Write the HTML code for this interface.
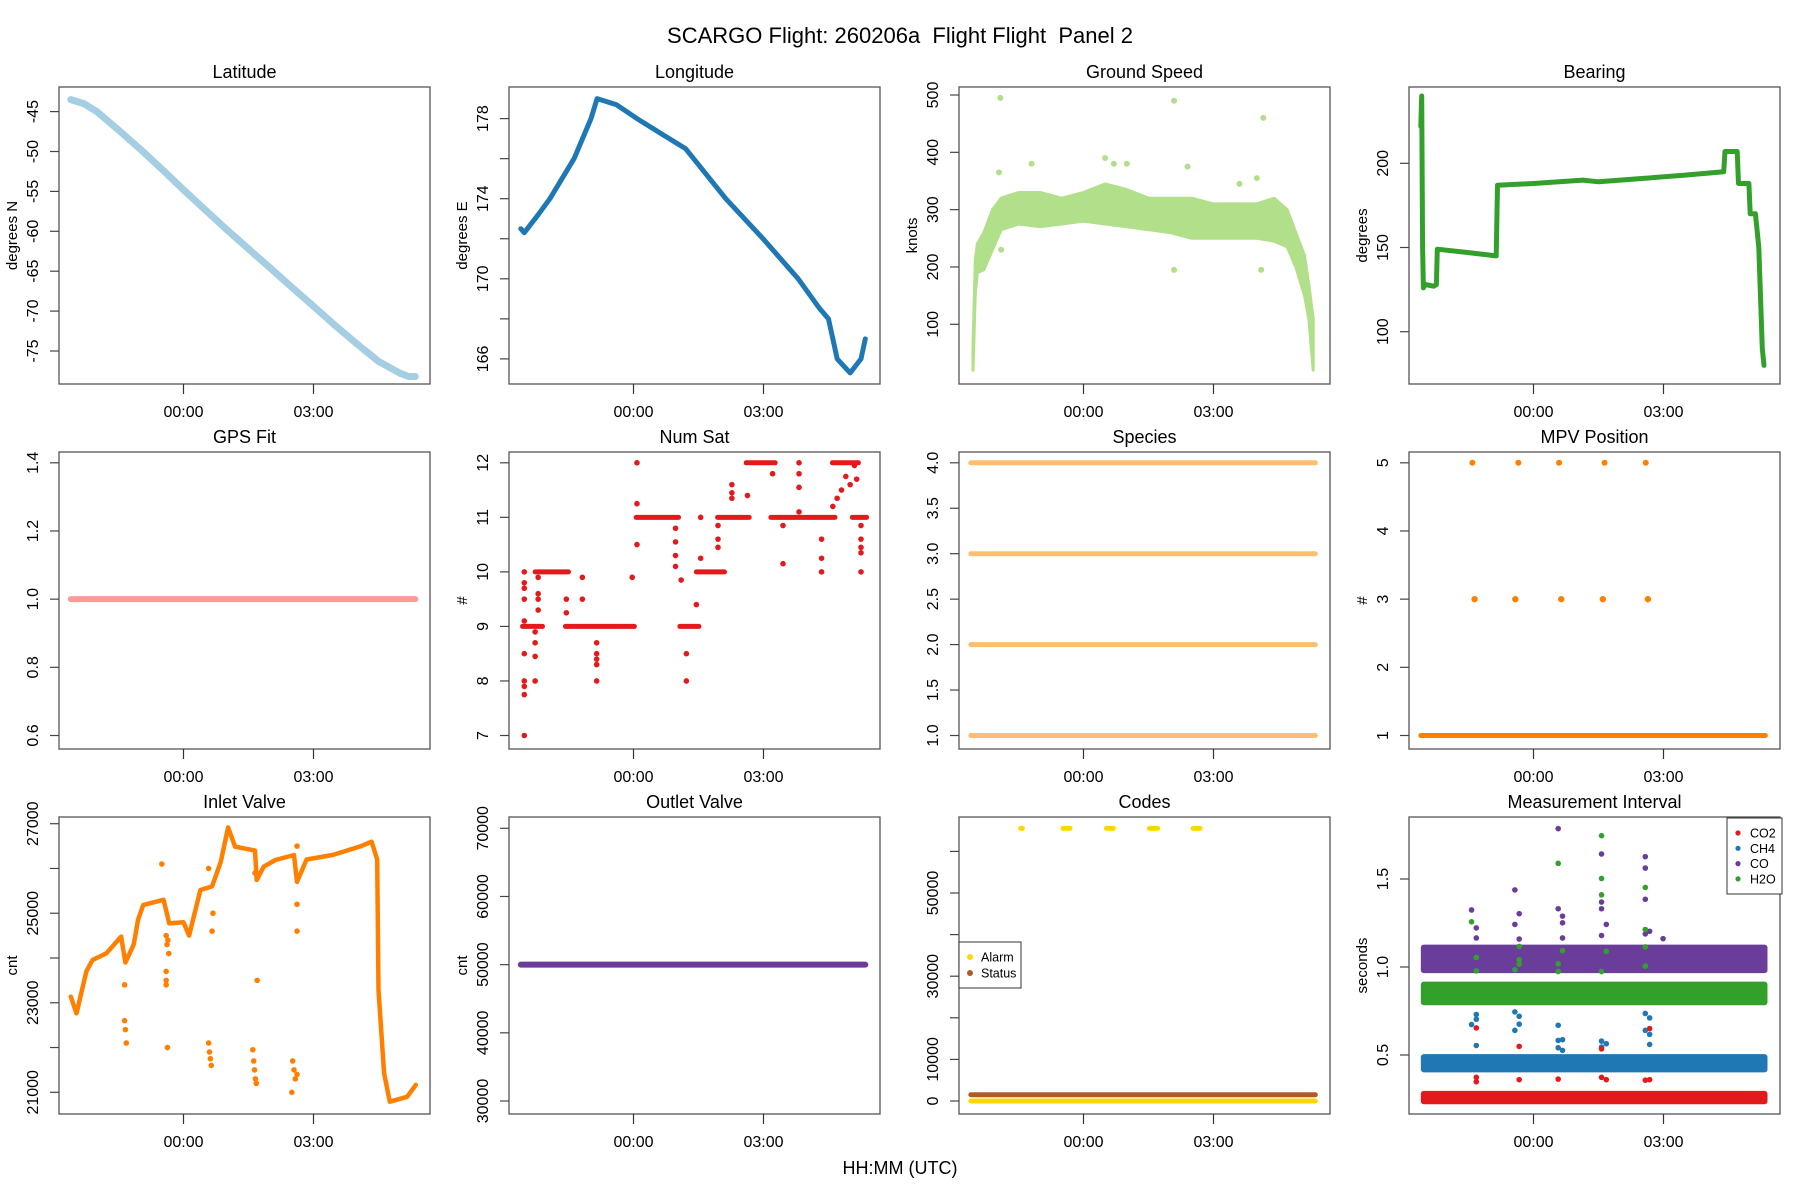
<!DOCTYPE html>
<html><head><meta charset="utf-8"><style>
html,body{margin:0;padding:0;background:#fff}
svg{display:block;font-family:"Liberation Sans",sans-serif}
</style></head><body>
<svg id="chart" width="1800" height="1200" viewBox="0 0 1800 1200" xmlns="http://www.w3.org/2000/svg">
<rect x="0" y="0" width="1800" height="1200" fill="#fff"/>
<text x="900" y="43" font-size="22" text-anchor="middle" style="white-space:pre" xml:space="preserve">SCARGO Flight: 260206a  Flight Flight  Panel 2</text>
<text x="900" y="1174" font-size="18" text-anchor="middle">HH:MM (UTC)</text>
</svg>
<script>
// ---- data ----
const xTickValues=[0,3];
const xTickLabels=["00:00","03:00"];
const latT=[-2.6,-2.3,-2.0,-1.5,-1,-0.5,0,0.5,1,1.5,2,2.5,3,3.5,4,4.5,5,5.2,5.35];
const latV=[-43.5,-44,-45,-47.3,-49.7,-52.2,-54.8,-57.3,-59.8,-62.2,-64.6,-67,-69.4,-71.8,-74.1,-76.3,-77.8,-78.2,-78.2];
const lonT=[-2.6,-2.52,-2.2,-1.93,-1.37,-0.98,-0.84,-0.4,0.08,0.6,1.2,2.13,2.99,3.8,4.3,4.5,4.7,5.0,5.25,5.35];
const lonV=[172.5,172.3,173.2,174,176,178,179,178.7,178,177.3,176.5,174,172,170,168.5,168,166,165.3,166,167];
const gsT=[-2.55,-2.5,-2.45,-2.3,-2.1,-1.9,-1.5,-1,-0.5,0,0.5,1,1.5,2,2.5,3,3.5,4,4.4,4.7,4.9,5.1,5.2,5.3];
const gsLo=[20,150,190,195,230,265,275,270,275,280,275,270,265,260,250,250,250,250,245,235,200,150,110,20];
const gsHi=[60,210,240,260,300,320,330,330,320,330,345,335,320,320,320,310,310,310,320,300,260,220,170,110];
const gsOutT=[-1.92,2.09,4.15,-1.9,2.09,4.1,-1.2,0.5,2.4,4.0,0.7,-1.95,1.0,3.6];
const gsOutV=[495,490,460,230,195,195,380,390,375,355,380,365,380,345];
const brT=[-2.6,-2.58,-2.56,-2.54,-2.5,-2.3,-2.24,-2.22,-1.5,-0.86,-0.83,0,1.14,1.5,2.5,3.5,4.39,4.42,4.7,4.73,4.97,5.0,5.12,5.18,5.2,5.28,5.32];
const brV=[222,240,150,126,128,127,128,149,147,145,187,188,190,189,191,193,195,207,207,188,188,170,170,155,150,90,80];
const gpsT=[-2.6,5.35];
const gpsV=[1.0,1.0];
const nsRunStart=[-2.56,-2.27,-1.57,0.06,1.07,1.45,1.94,2.6,3.17,4.59,5.05];
const nsRunEnd=[-2.10,-1.50,0.02,1.04,1.51,2.10,2.67,3.27,4.65,5.19,5.38];
const nsRunV=[9,10,9,11,9,10,11,12,11,12,11];
const nsPtT=[-2.52,-2.52,-2.52,-2.52,-2.52,-2.52,-2.52,-2.52,-2.52,-2.52,-2.27,-2.27,-2.27,-2.27,-2.2,-2.2,-2.2,-2.2,-1.55,-1.55,-1.18,-1.18,-0.85,-0.85,-0.85,-0.85,-0.85,-0.03,0.08,0.08,0.08,0.97,0.97,0.97,0.97,1.1,1.22,1.22,1.45,1.55,1.55,1.95,1.95,1.95,2.27,2.27,2.27,2.63,3.21,3.45,3.45,3.82,3.82,3.82,3.82,4.34,4.34,4.34,4.6,4.7,4.8,4.9,5.0,5.1,5.15,5.25,5.25,5.25,5.25,5.25];
const nsPtV=[10,9.8,9.7,9.5,9.1,8.5,8,7.9,7.75,7,8.9,8.7,8.45,8,9.9,9.6,9.5,9.3,9.5,9.25,9.9,9.5,8.7,8.5,8.4,8.3,8,9.9,10.5,11.25,12,10.8,10.55,10.3,10.1,9.85,8,8.5,9.4,10.25,11,10.6,10.45,10.85,11.6,11.35,11.45,11.4,11.8,10.85,10.15,12,11.8,11.55,11.1,10.6,10.25,10,11.2,11.35,11.5,11.75,11.6,11.95,11.7,10.85,10.6,10.45,10.35,10];
const speciesLevels=[1,2,3,4];
const mpvBase=1;
const mpv5T=[-1.41,-0.35,0.59,1.64,2.59];
const mpv3T=[-1.36,-0.42,0.64,1.6,2.64];
const inT=[-2.6,-2.47,-2.24,-2.1,-1.78,-1.44,-1.34,-1.15,-1.05,-0.93,-0.46,-0.33,0,0.13,0.39,0.66,0.86,1.03,1.19,1.65,1.69,1.85,2.12,2.55,2.62,2.84,3.44,4.1,4.34,4.47,4.5,4.63,4.76,5.16,5.36];
const inV=[23136,22764,23700,23955,24104,24477,23900,24300,24849,25184,25300,24774,24800,24500,25518,25600,26151,26918,26486,26400,25742,26040,26189,26300,25700,26200,26300,26500,26598,26200,23285,21424,20790,20900,21166];
const inPtT=[-1.36,-1.34,-1.32,-1.36,-0.4,-0.38,-0.36,-0.34,-0.4,-0.4,-0.4,-0.37,0.58,0.6,0.62,0.64,0.58,0.66,0.68,1.6,1.62,1.64,1.66,1.68,1.7,2.52,2.55,2.58,2.62,2.62,2.62,2.5,2.62,1.65,-0.5];
const inPtV=[22600,22400,22100,23400,24500,24300,24400,24100,23700,23500,23400,22000,22100,21900,21750,21600,26000,24600,25000,21950,21700,21500,21300,21200,23500,21700,21500,21300,25200,24600,26500,21000,21400,25900,26100];
const outT=[-2.6,5.35];
const outV=[50000,50000];
const alarmStart=[-1.45,-0.47,0.53,1.52,2.53];
const alarmEnd=[-1.41,-0.31,0.69,1.71,2.69];
const alarmV=65535;
const statusV=1500;
const miBandCenter=[0.258,0.453,1.046,0.85];
const miBandHalf=[0.038,0.052,0.081,0.067];
const miCO2T=[-1.32,-1.32,-1.32,-0.33,-0.33,0.57,1.57,1.57,1.68,2.68,2.68,2.58];
const miCO2V=[0.654,0.373,0.348,0.549,0.36,0.363,0.535,0.373,0.36,0.650,0.36,0.357];
const miCH4T=[-1.43,-1.32,-1.32,-1.32,-0.43,-0.43,-0.33,-0.33,0.57,0.57,0.57,0.67,0.67,1.57,1.57,1.68,2.58,2.58,2.68,2.68,2.68];
const miCH4V=[0.673,0.730,0.703,0.554,0.745,0.640,0.720,0.675,0.669,0.583,0.541,0.587,0.526,0.579,0.545,0.564,0.736,0.640,0.711,0.617,0.56];
const miCOT=[-1.43,-1.32,-1.32,-0.43,-0.43,-0.33,-0.33,0.57,0.57,0.67,0.67,0.67,1.57,1.57,1.57,1.57,1.68,2.58,2.58,2.58,2.58,2.68,2.99];
const miCOV=[1.324,1.222,1.165,1.438,1.242,1.303,1.159,1.786,1.331,1.289,1.251,1.165,1.642,1.369,1.331,1.179,1.242,1.627,1.562,1.385,1.188,1.203,1.161];
const miH2OT=[-1.43,-1.32,-1.32,-0.33,-0.33,-0.33,-0.43,0.57,0.57,0.57,0.67,1.57,1.57,1.57,1.57,1.68,2.58,2.58,2.58,2.58];
const miH2OV=[1.257,1.054,0.978,1.117,1.041,1.016,0.984,1.589,1.018,0.974,1.093,1.746,1.503,1.41,0.974,1.089,1.452,1.213,1.114,1.005];

// ---- drawing ----
const NS="http://www.w3.org/2000/svg";
const svg=document.getElementById('chart');
const COLS=[59,509,959,1409], ROWS=[87,452,817], PW=371, PH=297;
function mk(tag,attrs,parent){const e=document.createElementNS(NS,tag);for(const k in attrs)e.setAttribute(k,attrs[k]);(parent||svg).appendChild(e);return e;}
function makePanel(key,title,col,row,va,oa,vb,ob,ticks,labels,ytitle){
  const L=COLS[col],T=ROWS[row];
  const g=mk('g',{});
  
  
  const p={L,T,g,x:t=>L+124.5+t*43.333,y:v=>T+oa+(v-va)*(ob-oa)/(vb-va)};
  const t=mk('text',{x:L+PW/2,y:T-9,'font-size':18,'text-anchor':'middle'},g);
  t.textContent=title;
  
  
  const fr=mk('rect',{x:L,y:T,width:PW,height:PH,fill:'none',stroke:'#555','stroke-width':1.3},g);
  
  
  xTickValues.forEach((tv,i)=>{
    const xx=p.x(tv);
    const tk=mk('line',{x1:xx,x2:xx,y1:T+PH,y2:T+PH+10,stroke:'#333','stroke-width':1.2},g);
    
    
    const lb=mk('text',{x:xx,y:T+PH+33,'font-size':16,'text-anchor':'middle'},g);
    lb.textContent=xTickLabels[i];
    
    
  });
  ticks.forEach((tv,i)=>{
    const yy=p.y(tv);
    const tk=mk('line',{x1:L-9,x2:L,y1:yy,y2:yy,stroke:'#444','stroke-width':1.2},g);
    
    
    if(labels[i]!==''){
      const lb=mk('text',{x:0,y:0,'font-size':16,'text-anchor':'middle',transform:`translate(${L-21},${yy}) rotate(-90)`},g);
      lb.textContent=labels[i];
      
      
    }
  });
  if(ytitle){
    const yt=mk('text',{x:0,y:0,'font-size':15,'text-anchor':'middle',transform:`translate(${L-42},${T+PH/2}) rotate(-90)`},g);
    yt.textContent=ytitle;
    
    
  }
  return p;
}
function polyline(p,T,V,color,w,name){
  const pts=T.map((t,i)=>p.x(t).toFixed(1)+','+p.y(V[i]).toFixed(1)).join(' ');
  const e=mk('polyline',{points:pts,fill:'none',stroke:color,'stroke-width':w,'stroke-linejoin':'round','stroke-linecap':'round'},p.g);
  
  
  return e;
}
function dots(p,T,V,color,r,name){
  T.forEach((t,i)=>{
    const c=mk('circle',{cx:p.x(t),cy:p.y(V[i]),r:r,fill:color},p.g);
    
    
  });
}
function hseg(p,t0,t1,v,color,w,name){
  const e=mk('line',{x1:p.x(t0),x2:p.x(t1),y1:p.y(v),y2:p.y(v),stroke:color,'stroke-width':w,'stroke-linecap':'round'},p.g);
  
  
}
function band(p,T,Lo,Hi,color,name){
  const pts=T.map((t,i)=>p.x(t).toFixed(1)+','+p.y(Hi[i]).toFixed(1)).concat(T.slice().reverse().map((t,j)=>{const i=T.length-1-j;return p.x(t).toFixed(1)+','+p.y(Lo[i]).toFixed(1);})).join(' ');
  const e=mk('polygon',{points:pts,fill:color,stroke:color,'stroke-width':3,'stroke-linejoin':'round'},p.g);
  
  
}

// Latitude
const pLat=makePanel('latitude','Latitude',0,0,-45,24.6,-75,264,[-45,-50,-55,-60,-65,-70,-75],['-45','-50','-55','-60','-65','-70','-75'],'degrees N');
polyline(pLat,latT,latV,'#a6cee3',7,'latitude-line');
// Longitude
const pLon=makePanel('longitude','Longitude',1,0,178,31.6,166,271.9,[166,168,170,172,174,176,178],['166','','170','','174','','178'],'degrees E');
polyline(pLon,lonT,lonV,'#1f78b4',5,'longitude-line');
// Ground speed
const pGs=makePanel('ground-speed','Ground Speed',2,0,500,8,100,237.3,[100,200,300,400,500],['100','200','300','400','500'],'knots');
band(pGs,gsT,gsLo,gsHi,'#b2df8a','ground-speed-band');
dots(pGs,gsOutT,gsOutV,'#b2df8a',3,'ground-speed-outlier');
// Bearing
const pBr=makePanel('bearing','Bearing',3,0,200,76.3,100,244.7,[100,150,200],['100','150','200'],'degrees');
polyline(pBr,brT,brV,'#33a02c',5,'bearing-line');
// GPS fit
const pGps=makePanel('gps-fit','GPS Fit',0,1,1.4,10.8,0.6,283.5,[0.6,0.8,1.0,1.2,1.4],['0.6','0.8','1.0','1.2','1.4'],'');
polyline(pGps,gpsT,gpsV,'#fb9a99',6,'gps-fit-line');
// Num sat
const pNs=makePanel('num-sat','Num Sat',1,1,12,10.8,7,283.5,[7,8,9,10,11,12],['7','8','9','10','11','12'],'#');
nsRunV.forEach((v,i)=>hseg(pNs,nsRunStart[i],nsRunEnd[i],v,'#e31a1c',5,'num-sat-run'));
dots(pNs,nsPtT,nsPtV,'#e31a1c',2.8,'num-sat-point');
// Species
const pSp=makePanel('species','Species',2,1,4,10.8,1,283.5,[1,1.5,2,2.5,3,3.5,4],['1.0','1.5','2.0','2.5','3.0','3.5','4.0'],'');
speciesLevels.forEach(v=>hseg(pSp,-2.6,5.35,v,'#fdbf6f',5,'species-line'));
// MPV
const pMpv=makePanel('mpv-position','MPV Position',3,1,5,10.8,1,283.5,[1,2,3,4,5],['1','2','3','4','5'],'#');
hseg(pMpv,-2.6,5.35,mpvBase,'#ff7f00',5,'mpv-base-line');
dots(pMpv,mpv5T,mpv5T.map(()=>5),'#ff7f00',3,'mpv-point-5');
dots(pMpv,mpv3T,mpv3T.map(()=>3),'#ff7f00',3.2,'mpv-point-3');
// Inlet
const pIn=makePanel('inlet-valve','Inlet Valve',0,2,27000,6.7,21000,275.3,[21000,22000,23000,24000,25000,26000,27000],['21000','','23000','','25000','','27000'],'cnt');
polyline(pIn,inT,inV,'#ff7f00',4.5,'inlet-valve-line');
dots(pIn,inPtT,inPtV,'#ff7f00',2.8,'inlet-valve-point');
// Outlet
const pOut=makePanel('outlet-valve','Outlet Valve',1,2,70000,11.3,30000,284,[30000,40000,50000,60000,70000],['30000','40000','50000','60000','70000'],'cnt');
polyline(pOut,outT,outV,'#6a3d9a',6,'outlet-valve-line');
// Codes
const pCd=makePanel('codes','Codes',2,2,50000,76,0,284,[0,10000,20000,30000,40000,50000,60000],['0','10000','','30000','','50000',''],'');
hseg(pCd,-2.6,5.35,0,'#ffd700',5,'alarm-band');
hseg(pCd,-2.6,5.35,statusV,'#b15928',5,'status-band');
alarmStart.forEach((t,i)=>hseg(pCd,t,alarmEnd[i],alarmV,'#ffd700',5,'alarm-cluster'));
(function(){const g=pCd.g;const L=pCd.L;
 const lg=mk('rect',{x:L,y:942,width:62,height:46,fill:'#fff',stroke:'#333','stroke-width':1},g);
 
 
 [['Alarm','#ffd700',957],['Status','#b15928',973]].forEach(a=>{
  const c=mk('circle',{cx:L+11,cy:a[2],r:3,fill:a[1]},g);
  
  
  const t=mk('text',{x:L+22,y:a[2]+4.5,'font-size':12.5},g);
  t.textContent=a[0];
  
  
 });})();
// Measurement interval
const pMi=makePanel('measurement-interval','Measurement Interval',3,2,1.5,62,0.5,238,[0.5,1.0,1.5],['0.5','1.0','1.5'],'seconds');
const miColors=['#e31a1c','#1f78b4','#6a3d9a','#33a02c'];
const miNames=['co2','ch4','co','h2o'];
[2,3,1,0].forEach(i=>{
  const y0=pMi.y(miBandCenter[i]+miBandHalf[i]), y1=pMi.y(miBandCenter[i]-miBandHalf[i]);
  const r=mk('rect',{x:pMi.x(-2.6),y:y0,width:pMi.x(5.4)-pMi.x(-2.6),height:y1-y0,fill:miColors[i],rx:3},pMi.g);
  
  
});
dots(pMi,miCH4T,miCH4V,'#1f78b4',2.8,'ch4-outlier');
dots(pMi,miCO2T,miCO2V,'#e31a1c',2.8,'co2-outlier');
dots(pMi,miCOT,miCOV,'#6a3d9a',2.8,'co-outlier');
dots(pMi,miH2OT,miH2OV,'#33a02c',2.8,'h2o-outlier');
(function(){const g=pMi.g;
 const lg=mk('rect',{x:1727,y:818,width:55,height:76,fill:'#fff',stroke:'#333','stroke-width':1},g);
 
 
 ['CO2','CH4','CO','H2O'].forEach((n,i)=>{
  const yy=833+i*15.3;
  const c=mk('circle',{cx:1738,cy:yy,r:2.6,fill:miColors[i]},g);
  
  
  const t=mk('text',{x:1750,y:yy+4.5,'font-size':12.5},g);
  t.textContent=n;
  
  
 });})();
</script>
</body></html>
